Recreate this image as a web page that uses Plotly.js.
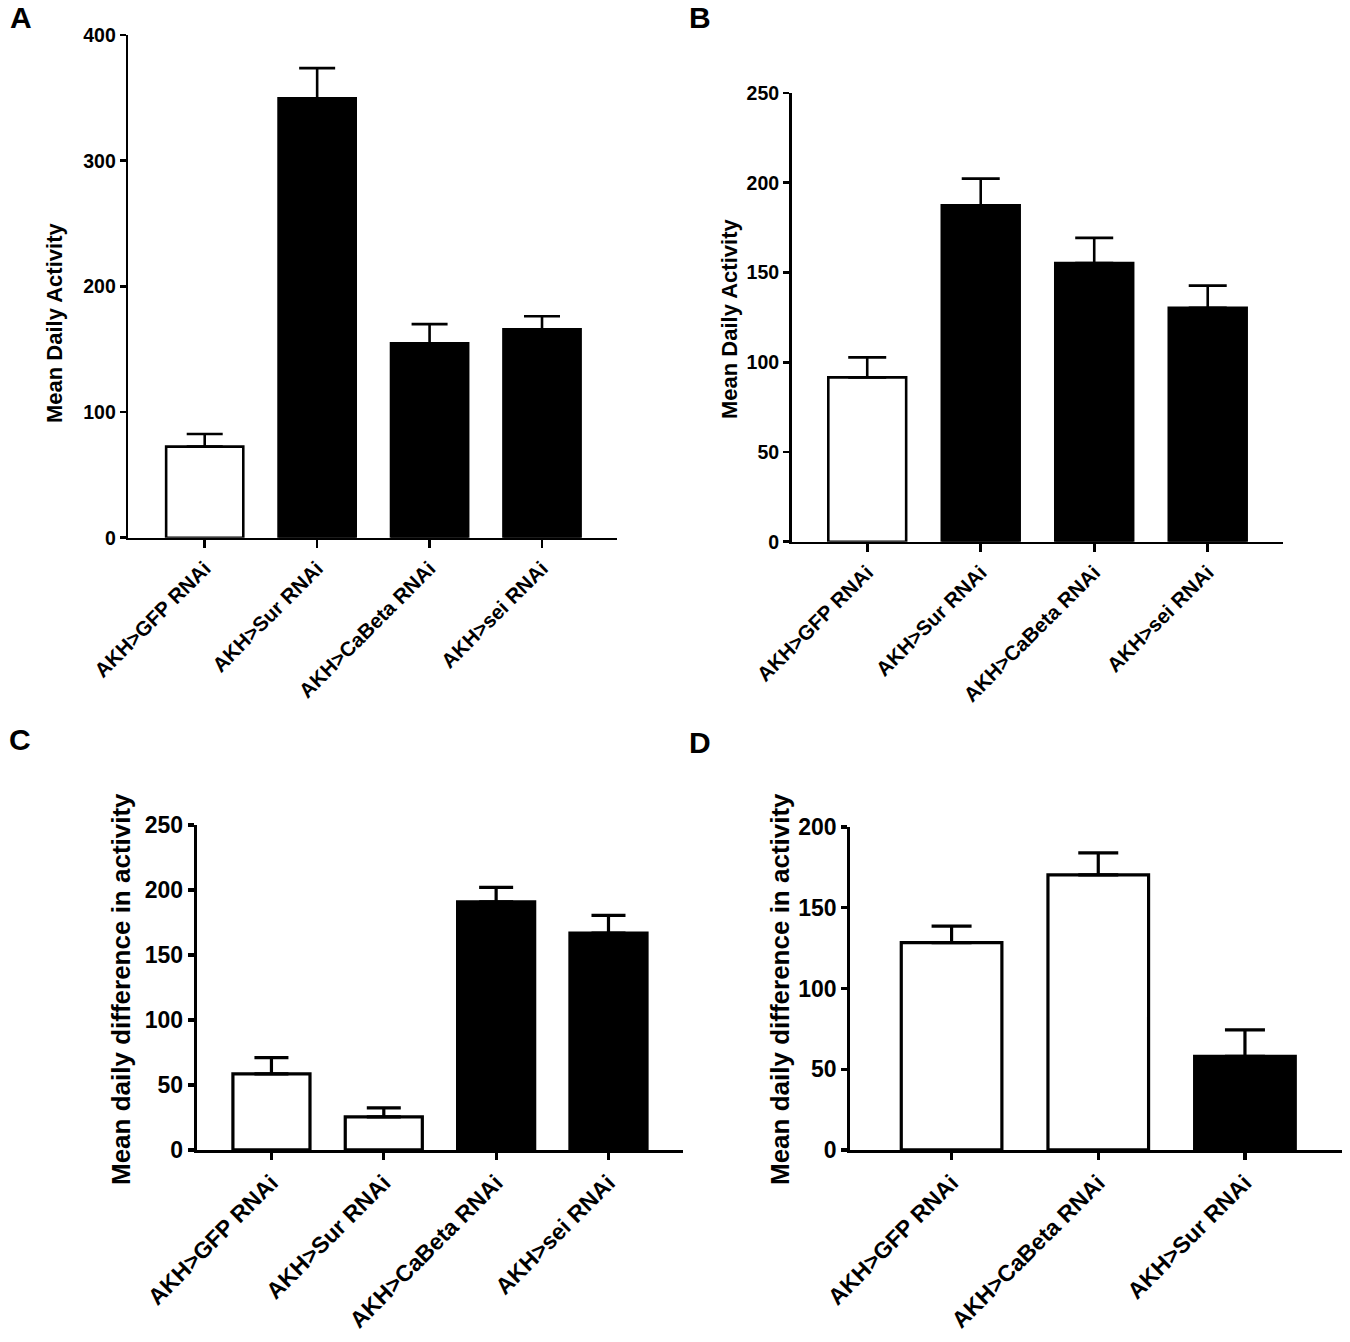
<!DOCTYPE html>
<html>
<head>
<meta charset="utf-8">
<script src="https://cdn.plot.ly/plotly-3.0.1.min.js"></script>
<style>html,body{margin:0;padding:0;background:#fff}</style>
</head>
<body>
<div id="chart" style="width:1350px;height:1342px"></div>
<script>
// A and B: mean daily activity
var catsAB = ['AKH>GFP RNAi', 'AKH>Sur RNAi', 'AKH>CaBeta RNAi', 'AKH>sei RNAi'];
var meanA = [72.5, 349.7, 154.7, 165.8];
var errA = [10, 24, 15.3, 10.4];
var meanB = [91.6, 187.5, 155.2, 130.3];
var errB = [11.1, 14.8, 14.1, 12.4];

// C and D: mean daily difference in activity
var catsC = ['AKH>GFP RNAi', 'AKH>Sur RNAi', 'AKH>CaBeta RNAi', 'AKH>sei RNAi'];
var meanC = [58.6, 25.4, 191, 166.9];
var errC = [12.4, 7, 11, 13.6];
var catsD = ['AKH>GFP RNAi', 'AKH>CaBeta RNAi', 'AKH>Sur RNAi'];
var meanD = [128.4, 170.3, 57.9];
var errD = [10.2, 13.7, 16.5];

var ticksA = [0, 100, 200, 300, 400];
var ticksB = [0, 50, 100, 150, 200, 250];
var ticksC = [0, 50, 100, 150, 200, 250];
var ticksD = [0, 50, 100, 150, 200];

var FONT = '"Liberation Sans", Arial, sans-serif';

// bar fill per panel (controls are white)
var fillA = ['white', 'black', 'black', 'black'];
var fillB = ['white', 'black', 'black', 'black'];
var fillC = ['white', 'white', 'black', 'black'];
var fillD = ['white', 'white', 'black'];

function bars(cats, means, errs, fills, n, capw, lw) {
    return {
        type: 'bar',
        x: cats,
        y: means,
        xaxis: 'x' + n,
        yaxis: 'y' + n,
        marker: {color: fills, line: {color: 'black', width: lw}},
        error_y: {
            type: 'data', symmetric: false,
            array: errs,
            arrayminus: errs.map(function() { return 0; }),
            color: 'black', thickness: lw, width: capw
        },
        hoverinfo: 'skip',
        showlegend: false
    };
}

function xAx(domain, range, anchor, size, lw, tl) {
    return {
        domain: domain, range: range, anchor: anchor, type: 'category',
        showline: true, linecolor: 'black', linewidth: lw,
        ticks: 'outside', ticklen: tl, tickwidth: lw, tickcolor: 'black',
        tickangle: -45,
        tickfont: {family: FONT, size: size, weight: 'bold', color: 'black'},
        showgrid: false, zeroline: false, fixedrange: true
    };
}

function yAx(domain, range, tickvals, anchor, size, lw) {
    return {
        domain: domain, range: range, anchor: anchor,
        tickvals: tickvals,
        showline: true, linecolor: 'black', linewidth: lw,
        ticks: 'outside', ticklen: 6, tickwidth: lw, tickcolor: 'black',
        tickfont: {family: FONT, size: size, weight: 'bold', color: 'black'},
        showgrid: false, zeroline: false, fixedrange: true
    };
}

function label(text, x, y, size, angle) {
    return {
        text: text, xref: 'paper', yref: 'paper',
        x: x / 1350, y: 1 - y / 1342,
        xanchor: 'center', yanchor: 'middle',
        textangle: angle, showarrow: false,
        font: {family: FONT, size: size, weight: 'bold', color: 'black'}
    };
}

var data = [
    bars(catsAB, meanA, errA, fillA, '', 18, 2.6),
    bars(catsAB, meanB, errB, fillB, '2', 19, 2.6),
    bars(catsC, meanC, errC, fillC, '3', 17, 3.2),
    bars(catsD, meanD, errD, fillD, '4', 20, 3.2)
];

var layout = {
    width: 1350,
    height: 1342,
    margin: {l: 0, r: 0, t: 0, b: 0},
    paper_bgcolor: 'white',
    plot_bgcolor: 'white',
    bargap: 0.314,
    showlegend: false,
    xaxis:  xAx([0.0950, 0.4573], [-0.68, 3.67], 'y', 20.5, 2.6, 8),
    yaxis:  yAx([0.5993, 0.9739], [0, 400], ticksA, 'x', 19.5, 2.6),
    xaxis2: xAx([0.5864, 0.9506], [-0.666, 3.666], 'y2', 20.5, 2.6, 8),
    yaxis2: yAx([0.5963, 0.9307], [0, 250], ticksB, 'x2', 19.5, 2.6),
    xaxis3: xAx([0.1459, 0.5059], [-0.663, 3.663], 'y3', 23, 3.2, 7),
    yaxis3: yAx([0.1431, 0.3852], [0, 250], ticksC, 'x3', 23, 3.2),
    xaxis4: xAx([0.6299, 0.9939], [-0.69, 2.66], 'y4', 23, 3.2, 7),
    yaxis4: yAx([0.1431, 0.3838], [0, 200], ticksD, 'x4', 23, 3.2),
    annotations: [
        label('A', 21, 18, 30, 0),
        label('B', 700, 18, 30, 0),
        label('C', 20, 739, 30, 0),
        label('D', 700, 742, 30, 0),
        label('Mean Daily Activity', 54, 323, 22, -90),
        label('Mean Daily Activity', 730, 319, 22, -90),
        label('Mean daily difference in activity', 121, 989, 26, -90),
        label('Mean daily difference in activity', 780, 989, 26, -90)
    ]
};

Plotly.newPlot('chart', data, layout, {staticPlot: true});
</script>
</body>
</html>
